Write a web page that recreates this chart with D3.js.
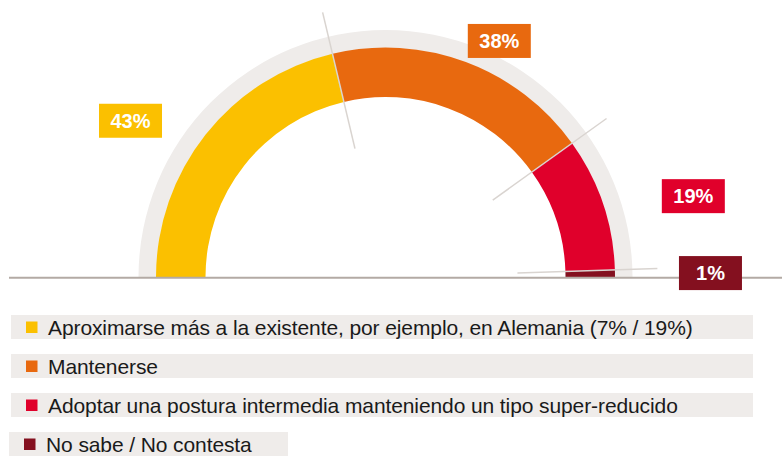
<!DOCTYPE html>
<html>
<head>
<meta charset="utf-8">
<script src="https://cdn.jsdelivr.net/npm/d3@7"></script>
<style>
  body { margin:0; background:#fff; }
  svg { display:block; font-family:"Liberation Sans", Arial, sans-serif; }
</style>
</head>
<body>
<div id="chart"></div>
<script>
var categories = [
    "Aproximarse más a la existente, por ejemplo, en Alemania (7% / 19%)",
    "Mantenerse",
    "Adoptar una postura intermedia manteniendo un tipo super-reducido",
    "No sabe / No contesta"
];
var values = [43, 38, 19, 1];
var labels = ["43%", "38%", "19%", "1%"];
var colors = ["#fbc000", "#e8690f", "#e0002b", "#84101f"];

var width = 782, height = 457;
var cx = 385.5, cy = 277;

var svg = d3.select("#chart").append("svg")
    .attr("width", width)
    .attr("height", height);

// semicircle from left to right
var pie = d3.pie()
    .sort(null)
    .startAngle(-Math.PI / 2)
    .endAngle(Math.PI / 2)
    .value(function(d) { return d; });

var slices = pie(values);

var gauge = svg.append("g")
    .attr("transform", "translate(" + cx + "," + cy + ")");

// grey outer band
gauge.append("path")
    .attr("d", d3.arc()({innerRadius: 229, outerRadius: 247, startAngle: -Math.PI / 2, endAngle: Math.PI / 2}))
    .attr("fill", "#efecea");

var arc = d3.arc().innerRadius(180).outerRadius(229.5);

gauge.selectAll("path.slice")
    .data(slices)
    .enter().append("path")
    .attr("class", "slice")
    .attr("d", arc)
    .attr("fill", function(d, i) { return colors[i]; });

// separators between slices
gauge.selectAll("line.sep")
    .data(slices.slice(0, slices.length - 1))
    .enter().append("line")
    .attr("class", "sep")
    .attr("x1", function(d) { return Math.sin(d.endAngle) * 132; })
    .attr("y1", function(d) { return -Math.cos(d.endAngle) * 132; })
    .attr("x2", function(d) { return Math.sin(d.endAngle) * 272; })
    .attr("y2", function(d) { return -Math.cos(d.endAngle) * 272; })
    .attr("stroke", "#d9d4d0")
    .attr("stroke-width", 1.5);

// baseline (behind the labels)
svg.append("line")
    .attr("x1", 9).attr("x2", width)
    .attr("y1", cy + 0.7).attr("y2", cy + 0.7)
    .attr("stroke", "#b3aaa4")
    .attr("stroke-width", 2);

// value labels placed on an ellipse around the gauge
var labLayer = svg.append("g")
    .attr("transform", "translate(" + cx + "," + cy + ")");

var lab = labLayer.selectAll("g.lab")
    .data(slices)
    .enter().append("g")
    .attr("class", "lab")
    .attr("transform", function(d) {
        var a = (d.startAngle + d.endAngle) / 2;
        var x = Math.sin(a) * 325, y = -Math.cos(a) * 252;
        return "translate(" + x + "," + y + ")";
    });

lab.append("rect")
    .attr("x", -31.5).attr("y", -17)
    .attr("width", 63).attr("height", 34)
    .attr("fill", function(d, i) { return colors[i]; });

lab.append("text")
    .attr("text-anchor", "middle")
    .attr("dy", "0.36em")
    .attr("fill", "#fff")
    .style("font-size", "20px")
    .style("font-weight", "bold")
    .text(function(d, i) { return labels[i]; });

// legend
var legend = svg.append("g");
var row = legend.selectAll("g")
    .data(categories)
    .enter().append("g")
    .attr("transform", function(d, i) { return "translate(0," + (315 + i * 39) + ")"; });

row.append("rect")
    .attr("x", function(d, i) { return i == 3 ? 9 : 11; })
    .attr("width", function(d, i) { return i == 3 ? 279 : 742; })
    .attr("height", 24)
    .attr("fill", "#efecea");

row.append("rect")
    .attr("x", function(d, i) { return i == 3 ? 24 : 26; })
    .attr("y", 6.5)
    .attr("width", 11.5).attr("height", 11.5)
    .attr("fill", function(d, i) { return colors[i]; });

row.append("text")
    .attr("x", function(d, i) { return i == 3 ? 46 : 48; })
    .attr("y", 12.5)
    .attr("dy", "0.35em")
    .attr("fill", "#1a1a1a")
    .style("font-size", "21px")
    .style("letter-spacing", "-0.1px")
    .text(function(d) { return d; });
</script>
</body>
</html>
